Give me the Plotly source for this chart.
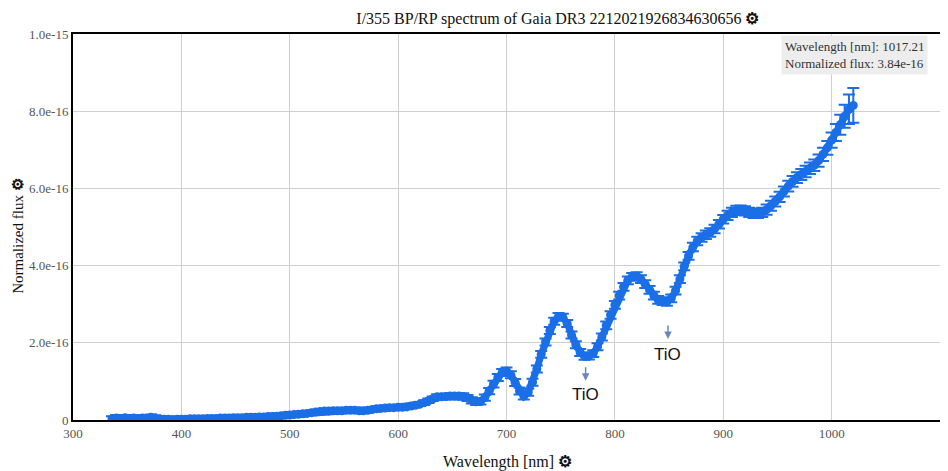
import numpy as np
import plotly.graph_objects as go

# Wavelength grid (nm) and normalized flux (units of 1e-16)
wavelength = list(range(336, 1021, 4))

flux_e16 = [
    0.03, 0.05, 0.03, 0.06, 0.04, 0.05, 0.03, 0.05, 0.04, 0.07, 0.05, 0.03,   # 336-380
    0.02, 0.02, 0.01, 0.02, 0.02, 0.02, 0.03, 0.03, 0.03, 0.03,               # 384-420
    0.04, 0.04, 0.04, 0.05, 0.05, 0.05, 0.06, 0.06, 0.06, 0.07,               # 424-460
    0.07, 0.07, 0.08, 0.08, 0.09, 0.09, 0.10, 0.11, 0.12, 0.13,               # 464-500
    0.14, 0.15, 0.16, 0.17, 0.19, 0.21, 0.22, 0.23, 0.23, 0.24,               # 504-540
    0.24, 0.24, 0.25, 0.25, 0.25, 0.24, 0.24, 0.25, 0.27, 0.29,               # 544-580
    0.30, 0.31, 0.32, 0.32, 0.33, 0.33, 0.34, 0.36, 0.38, 0.41,               # 584-620
    0.45, 0.50, 0.55, 0.60, 0.60, 0.61, 0.62, 0.62, 0.62, 0.61,               # 624-660
    0.57, 0.51, 0.47, 0.48, 0.58, 0.75, 0.93, 1.10, 1.23, 1.27,               # 664-700
    1.17, 0.97, 0.75, 0.62, 0.72, 0.98, 1.32, 1.70, 2.02, 2.32,               # 704-740
    2.56, 2.68, 2.66, 2.50, 2.20, 1.95, 1.75, 1.65, 1.66, 1.72,               # 744-780
    1.90, 2.15, 2.45, 2.72, 2.98, 3.22, 3.45, 3.62, 3.71, 3.73,               # 784-820
    3.65, 3.52, 3.37, 3.22, 3.11, 3.08, 3.06, 3.15, 3.35, 3.65,               # 824-860
    3.98, 4.25, 4.48, 4.64, 4.73, 4.80, 4.86, 4.95, 5.07, 5.20,               # 864-900
    5.30, 5.38, 5.43, 5.44, 5.42, 5.38, 5.35, 5.35, 5.38, 5.45,               # 904-940
    5.55, 5.66, 5.78, 5.92, 6.06, 6.18, 6.28, 6.36, 6.44, 6.52,               # 944-980
    6.60, 6.72, 6.88, 7.05, 7.25, 7.45, 7.65, 7.87, 8.05, 8.15,               # 984-1020
]

err_e16 = [
    0.07, 0.08, 0.06, 0.07, 0.06, 0.07, 0.06, 0.06, 0.05, 0.07, 0.06, 0.05,
    0.04, 0.04, 0.04, 0.04, 0.04, 0.04, 0.04, 0.04, 0.04, 0.04,
    0.04, 0.04, 0.04, 0.04, 0.04, 0.04, 0.04, 0.04, 0.04, 0.04,
    0.04, 0.04, 0.04, 0.04, 0.04, 0.04, 0.04, 0.04, 0.04, 0.04,
    0.04, 0.04, 0.04, 0.04, 0.04, 0.04, 0.04, 0.04, 0.04, 0.04,
    0.04, 0.04, 0.04, 0.04, 0.04, 0.04, 0.04, 0.04, 0.04, 0.04,
    0.04, 0.04, 0.05, 0.05, 0.05, 0.05, 0.05, 0.05, 0.05, 0.05,
    0.06, 0.06, 0.06, 0.07, 0.07, 0.07, 0.07, 0.08, 0.08, 0.08,
    0.08, 0.08, 0.08, 0.08, 0.08, 0.08, 0.09, 0.09, 0.09, 0.09,
    0.09, 0.09, 0.09, 0.09, 0.09, 0.09, 0.09, 0.09, 0.09, 0.09,
    0.09, 0.09, 0.09, 0.09, 0.09, 0.09, 0.09, 0.09, 0.09, 0.09,
    0.09, 0.09, 0.10, 0.10, 0.10, 0.10, 0.10, 0.10, 0.10, 0.10,
    0.10, 0.10, 0.10, 0.10, 0.10, 0.10, 0.10, 0.10, 0.10, 0.10,
    0.10, 0.10, 0.11, 0.11, 0.11, 0.11, 0.11, 0.11, 0.11, 0.11,
    0.12, 0.12, 0.12, 0.12, 0.12, 0.12, 0.12, 0.12, 0.12, 0.13,
    0.13, 0.13, 0.13, 0.13, 0.14, 0.14, 0.14, 0.14, 0.15, 0.15,
    0.15, 0.16, 0.17, 0.18, 0.20, 0.22, 0.26, 0.30, 0.38, 0.45,
]

x_ticks = [300, 400, 500, 600, 700, 800, 900, 1000, 1100]
y_tick_vals_e16 = [0, 2, 4, 6, 8, 10]
y_tick_text = ["0", "2.0e-16", "4.0e-16", "6.0e-16", "8.0e-16", "1.0e-15"]

# TiO band markers: (wavelength, arrow head flux e16, label flux e16)
tio_wavelength = [773, 849]
tio_arrow_head_e16 = [1.02, 2.10]
tio_label_e16 = [0.65, 1.69]

flux = np.array(flux_e16) * 1e-16
err = np.array(err_e16) * 1e-16

BLUE = "#1a6ee6"
SERIF = "Liberation Serif, Times New Roman, serif"
GEAR = "<b>\u2699</b>"

fig = go.Figure()
fig.add_trace(go.Scatter(
    x=wavelength, y=flux,
    mode="lines+markers",
    line=dict(color=BLUE, width=7),
    marker=dict(color=BLUE, size=9),
    error_y=dict(type="data", array=err, visible=True, color=BLUE,
                 thickness=2, width=6),
    showlegend=False,
    hoverinfo="skip",
))

annotations = []
for wl, head, lab in zip(tio_wavelength, tio_arrow_head_e16, tio_label_e16):
    annotations.append(dict(
        x=wl, y=head * 1e-16, xref="x", yref="y", text="",
        showarrow=True, arrowhead=2, arrowsize=1, arrowwidth=1.5,
        arrowcolor="#6a86bd", ax=0, ay=-15,
    ))
    annotations.append(dict(
        x=wl, y=lab * 1e-16, xref="x", yref="y", text="TiO",
        showarrow=False, bgcolor="white",
        font=dict(family="Liberation Sans, Arial, sans-serif", size=17, color="#111"),
    ))

annotations.append(dict(
    x=0.986, y=0.997, xref="paper", yref="paper", xanchor="right", yanchor="top",
    text="Wavelength [nm]: 1017.21<br>Normalized flux: 3.84e-16",
    showarrow=False, align="left", bgcolor="rgba(236,236,236,0.95)",
    borderpad=3,
    font=dict(family=SERIF, size=13, color="#333"),
))

# axis titles placed as annotations
annotations.append(dict(
    x=0.5006, y=-0.109, xref="paper", yref="paper", xanchor="center", yanchor="middle",
    text="Wavelength [nm] " + GEAR, showarrow=False,
    font=dict(family=SERIF, size=16, color="#111"),
))
annotations.append(dict(
    x=-0.0635, y=0.477, xref="paper", yref="paper", xanchor="center", yanchor="middle",
    text="Normalized flux " + GEAR, showarrow=False, textangle=-90,
    font=dict(family=SERIF, size=15, color="#111"),
))

fig.update_layout(
    width=940, height=463,
    margin=dict(l=65, r=8, t=26, b=51),
    paper_bgcolor="white", plot_bgcolor="white",
    title=dict(text="I/355 BP/RP spectrum of Gaia DR3 2212021926834630656 " + GEAR,
               x=0.585, xanchor="center", xref="container", y=0.978, yanchor="middle",
               font=dict(family=SERIF, size=16, color="#111")),
    xaxis=dict(range=[300, 1100], tickvals=x_ticks, showgrid=True, gridcolor="#cfcfcf",
               gridwidth=1, showline=True, linecolor="black", linewidth=2, mirror=True,
               ticks="", zeroline=False, automargin=False,
               tickfont=dict(family=SERIF, size=13, color="#555")),
    yaxis=dict(range=[0, 1e-15], tickvals=[v * 1e-16 for v in y_tick_vals_e16],
               ticktext=y_tick_text, showgrid=True, gridcolor="#cfcfcf", gridwidth=1,
               showline=True, linecolor="black", linewidth=2, mirror=True,
               ticks="", zeroline=False, automargin=False,
               tickfont=dict(family=SERIF, size=13, color="#555")),
    annotations=annotations,
)

fig.write_html("out.html")
